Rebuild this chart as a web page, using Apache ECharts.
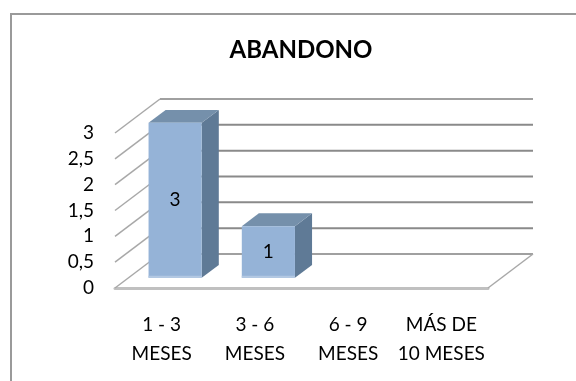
<!DOCTYPE html>
<html>
<head>
<meta charset="utf-8">
<script src="https://cdn.jsdelivr.net/npm/echarts@6/dist/echarts.min.js"></script>
<style>
  html, body { margin: 0; padding: 0; background: #fff; }
  #chart { width: 576px; height: 381px; }
</style>
</head>
<body>
<div id="chart"></div>
<script>
// Chart data
const chartTitle = 'ABANDONO';
const categories = ['1 - 3\nMESES', '3 - 6\nMESES', '6 - 9\nMESES', 'MÁS DE\n10 MESES'];
const values = [3, 1, null, null];
const yTicks = [0, 0.5, 1, 1.5, 2, 2.5, 3];

// Pseudo-3D geometry: the walls recede up and to the right
const DEPTH_X = 45;
const DEPTH_Y = -34;
const BAR_FRONT = 0.3;   // bar front face, as a fraction of the depth
const BAR_BACK = 0.68;   // bar back face
const BAR_WIDTH = 0.57;  // fraction of the category band

const FONT = 'Lato, "Open Sans", sans-serif';

const chart = echarts.init(document.getElementById('chart'), null, { renderer: 'canvas' });

function renderWall(params, api) {
  const cs = params.coordSys;
  const v = api.value(1);
  const y = api.coord([0, v])[1];
  const x0 = cs.x;
  const x1 = cs.x + cs.width;
  const children = [
    // left side wall line
    { type: 'line', shape: { x1: x0, y1: y, x2: x0 + DEPTH_X, y2: y + DEPTH_Y },
      style: { stroke: '#a8a8a8', lineWidth: 1.5 } },
    // back wall gridline
    { type: 'line', shape: { x1: x0 + DEPTH_X, y1: y + DEPTH_Y, x2: x1 + DEPTH_X, y2: y + DEPTH_Y },
      style: { stroke: (v === 0 || v === 3) ? '#a0a0a0' : '#8a8a8a', lineWidth: 2 } }
  ];
  if (v === 0) {
    // right edge of the floor
    children.push({ type: 'line', shape: { x1: x1, y1: y, x2: x1 + DEPTH_X, y2: y + DEPTH_Y },
      style: { stroke: '#a8a8a8', lineWidth: 1.5 } });
  }
  return { type: 'group', children: children };
}

function renderBar(params, api) {
  const v = api.value(1);
  if (v == null || isNaN(v)) return null;
  const cat = api.value(0);
  const top = api.coord([cat, v]);
  const base = api.coord([cat, 0]);
  const band = api.size([1, 0])[0];
  const w = band * BAR_WIDTH;
  const fx = DEPTH_X * BAR_FRONT, fy = DEPTH_Y * BAR_FRONT;
  const bx = DEPTH_X * BAR_BACK, by = DEPTH_Y * BAR_BACK;
  const l = top[0] - w / 2, r = top[0] + w / 2;
  const yt = top[1], yb = base[1];
  return {
    type: 'group',
    children: [
      // side face
      { type: 'polygon', shape: { points: [
          [r + fx, yt + fy], [r + bx, yt + by], [r + bx, yb + by], [r + fx, yb + fy]] },
        style: { fill: '#5f7a96' } },
      // top face
      { type: 'polygon', shape: { points: [
          [l + fx, yt + fy], [l + bx, yt + by], [r + bx, yt + by], [r + fx, yt + fy]] },
        style: { fill: '#7590ab' } },
      // front face
      { type: 'rect', shape: { x: l + fx, y: yt + fy, width: w, height: yb - yt },
        style: { fill: '#95b3d7' } },
      // lighter lower edge of the front face
      { type: 'rect', shape: { x: l + fx, y: yb + fy - 2, width: w, height: 2 },
        style: { fill: '#b3c8e2' } },
      // value label
      { type: 'text', style: {
          text: String(v), x: top[0] + fx, y: (yt + yb) / 2 + fy,
          align: 'center', verticalAlign: 'middle',
          font: '19px ' + FONT, fill: '#000' } }
    ]
  };
}

const option = {
  backgroundColor: '#ffffff',
  animation: false,
  title: {
    text: chartTitle,
    left: 296,
    textAlign: 'center',
    top: 33,
    textStyle: { fontFamily: FONT, fontWeight: 'bold', fontSize: 24, color: '#000' }
  },
  graphic: [
    { type: 'polyline', shape: { points: [[11, 381], [11, 14], [576, 14]] },
      style: { stroke: '#9a9a9a', lineWidth: 2, fill: null }, z: 0 }
  ],
  grid: { left: 115, right: 88, top: 133, bottom: 93 },
  xAxis: {
    type: 'category',
    data: categories,
    axisTick: { show: false },
    axisLine: { show: true, lineStyle: { color: '#c0c0c0', width: 3 } },
    axisLabel: {
      interval: 0, margin: 22, color: '#000',
      fontFamily: FONT, fontSize: 19, lineHeight: 29
    }
  },
  yAxis: {
    type: 'value',
    min: 0, max: 3, interval: 0.5,
    axisLine: { show: false },
    axisTick: { show: false },
    splitLine: { show: false },
    axisLabel: {
      margin: 21, color: '#000', fontFamily: FONT, fontSize: 19,
      formatter: function (v) { return String(v).replace('.', ','); }
    }
  },
  series: [
    {
      type: 'custom',
      name: 'walls',
      renderItem: renderWall,
      data: yTicks.map(function (t) { return [0, t]; }),
      encode: { x: 0, y: 1 },
      silent: true,
      z: 1
    },
    {
      type: 'custom',
      name: chartTitle,
      renderItem: renderBar,
      data: values.map(function (v, i) { return [i, v]; }),
      encode: { x: 0, y: 1 },
      z: 3
    }
  ]
};

chart.setOption(option);
</script>
</body>
</html>
